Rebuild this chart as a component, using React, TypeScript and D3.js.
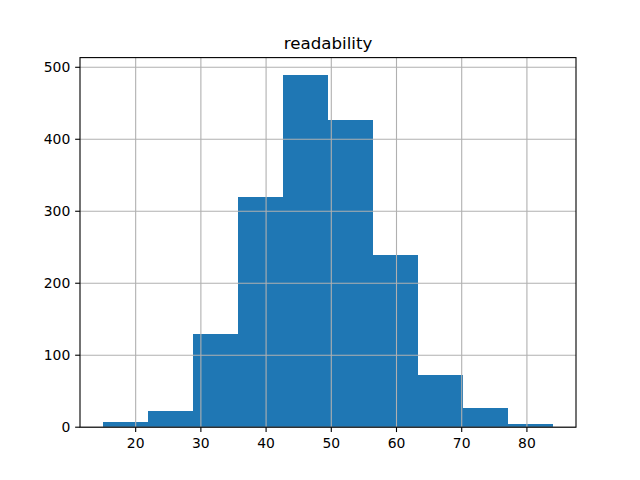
import React from "react";
import * as d3 from "d3";

const binEdges = [14.92, 21.84, 28.75, 35.67, 42.58, 49.5, 56.41, 63.33, 70.24, 77.16, 84.07];
const counts = [7, 22, 129, 320, 489, 427, 239, 72, 26, 4];
const xTicks = [20, 30, 40, 50, 60, 70, 80];
const yTicks = [0, 100, 200, 300, 400, 500];
const title = "readability";

const W = 640;
const H = 480;
const L = 80, R = 576, T = 57.6, B = 427.2;
const FONT = "DejaVu Sans, sans-serif";

export default function App() {
  const lo = binEdges[0];
  const hi = binEdges[binEdges.length - 1];
  const pad = (hi - lo) * 0.05;
  const x = d3.scaleLinear().domain([lo - pad, hi + pad]).range([L, R]);
  const maxC = d3.max(counts) as number;
  const y = d3.scaleLinear().domain([0, maxC * 1.05]).range([B, T]);
  const tick = 4.86;
  return (
    <svg width={W} height={H} style={{ position: "absolute", left: 0, top: 0, background: "#fff" }}>
      <rect x={0} y={0} width={W} height={H} fill="#fff" />
      {counts.map((c, i) => (
        <rect
          key={i}
          x={x(binEdges[i])}
          y={y(c)}
          width={x(binEdges[i + 1]) - x(binEdges[i])}
          height={B - y(c)}
          fill="#1f77b4"
          shapeRendering="crispEdges"
        />
      ))}
      {xTicks.map((t) => (
        <line key={"gx" + t} x1={x(t)} x2={x(t)} y1={T} y2={B} stroke="#b0b0b0" strokeWidth={1.1} />
      ))}
      {yTicks.map((t) => (
        <line key={"gy" + t} x1={L} x2={R} y1={y(t)} y2={y(t)} stroke="#b0b0b0" strokeWidth={1.1} />
      ))}
      <rect x={L} y={T} width={R - L} height={B - T} fill="none" stroke="#000" strokeWidth={1.1} />
      {xTicks.map((t) => (
        <g key={"xt" + t}>
          <line x1={x(t)} x2={x(t)} y1={B} y2={B + tick} stroke="#000" strokeWidth={1.1} />
          <text x={x(t)} y={448.4} textAnchor="middle" fontFamily={FONT} fontSize={13.9} fill="#000">
            {t}
          </text>
        </g>
      ))}
      {yTicks.map((t) => (
        <g key={"yt" + t}>
          <line x1={L - tick} x2={L} y1={y(t)} y2={y(t)} stroke="#000" strokeWidth={1.1} />
          <text x={L - tick - 4.86} y={y(t) + 5.1} textAnchor="end" fontFamily={FONT} fontSize={13.9} fill="#000">
            {t}
          </text>
        </g>
      ))}
      <text x={(L + R) / 2} y={T - 8.33} textAnchor="middle" fontFamily={FONT} fontSize={16.67} fill="#000">
        {title}
      </text>
    </svg>
  );
}
